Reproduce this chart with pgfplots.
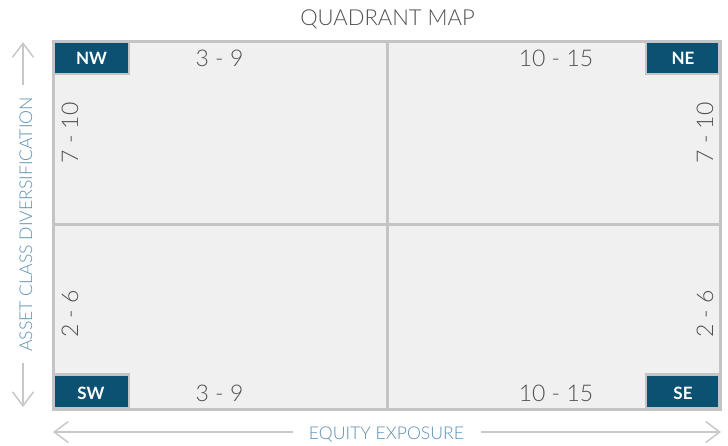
\documentclass[border=0pt]{standalone}
\usepackage{fontspec}
\setmainfont{Lato Light}[BoldFont={Lato Bold}]
\usepackage{pgfplots}
\pgfplotsset{compat=1.18}
\usetikzlibrary{arrows.meta}
\definecolor{cellfill}{HTML}{F0F0F0}
\definecolor{cellline}{HTML}{C4C4C4}
\definecolor{badge}{HTML}{0D5172}
\definecolor{txt}{HTML}{505050}
\definecolor{lab}{HTML}{5A8FB2}
\definecolor{arr}{HTML}{C8C8C8}
\begin{document}
\begin{tikzpicture}
\begin{axis}[width=728pt,height=443pt,scale only axis,
  xmin=0,xmax=728,ymin=0,ymax=443,y dir=reverse,
  hide axis,clip=false,anchor=south west,at={(0,0)}]
% invisible frame for bounding box
\addplot[draw=none,mark=none] coordinates {(0,0) (728,443)};
% quadrants
\addplot[fill=cellfill,draw=cellline,line width=3pt,mark=none] coordinates {(53,41) (387,41) (387,224) (53,224)} -- cycle;
\addplot[fill=cellfill,draw=cellline,line width=3pt,mark=none] coordinates {(387,41) (720,41) (720,224) (387,224)} -- cycle;
\addplot[fill=cellfill,draw=cellline,line width=3pt,mark=none] coordinates {(53,224) (387,224) (387,409) (53,409)} -- cycle;
\addplot[fill=cellfill,draw=cellline,line width=3pt,mark=none] coordinates {(387,224) (720,224) (720,409) (387,409)} -- cycle;
% badges
\addplot[fill=badge,draw=cellline,line width=2.5pt,mark=none] coordinates {(53.5,41.5) (129,41.5) (129,74) (53.5,74)} -- cycle;
\addplot[fill=badge,draw=cellline,line width=2.5pt,mark=none] coordinates {(646,41.5) (719.5,41.5) (719.5,74) (646,74)} -- cycle;
\addplot[fill=badge,draw=cellline,line width=2.5pt,mark=none] coordinates {(53.5,374.5) (129,374.5) (129,408.5) (53.5,408.5)} -- cycle;
\addplot[fill=badge,draw=cellline,line width=2.5pt,mark=none] coordinates {(646,374.5) (719.5,374.5) (719.5,408.5) (646,408.5)} -- cycle;
% arrows
\addplot[arr,line width=1.5pt,mark=none,-{Straight Barb[length=14pt,width=21pt]}] coordinates {(23,85) (23,42)};
\addplot[arr,line width=1.5pt,mark=none,-{Straight Barb[length=14pt,width=21pt]}] coordinates {(23,363) (23,407)};
\addplot[arr,line width=1.5pt,mark=none,-{Straight Barb[length=14pt,width=21pt]}] coordinates {(293,432) (53,432)};
\addplot[arr,line width=1.5pt,mark=none,-{Straight Barb[length=14pt,width=21pt]}] coordinates {(481,432) (721,432)};
% badge texts
\node[anchor=base,text=white,font=\bfseries\fontsize{17}{17}\selectfont] at (axis cs:91.5,64) {NW};
\node[anchor=base,text=white,font=\bfseries\fontsize{17}{17}\selectfont] at (axis cs:683,64) {NE};
\node[anchor=base,text=white,font=\bfseries\fontsize{17}{17}\selectfont] at (axis cs:91,399) {SW};
\node[anchor=base,text=white,font=\bfseries\fontsize{17}{17}\selectfont] at (axis cs:683,399) {SE};
% range labels
\node[anchor=base,text=txt,font=\fontsize{23}{23}\selectfont] at (axis cs:219.5,66) {3 - 9};
\node[anchor=base,text=txt,font=\fontsize{23}{23}\selectfont] at (axis cs:556,66) {10 - 15};
\node[anchor=base,text=txt,font=\fontsize{23}{23}\selectfont] at (axis cs:219.5,401) {3 - 9};
\node[anchor=base,text=txt,font=\fontsize{23}{23}\selectfont] at (axis cs:556,401) {10 - 15};
\node[rotate=90,anchor=base,text=txt,font=\fontsize{23}{23}\selectfont] at (axis cs:78,133) {7 - 10};
\node[rotate=90,anchor=base,text=txt,font=\fontsize{23}{23}\selectfont] at (axis cs:78,314) {2 - 6};
\node[rotate=90,anchor=base,text=txt,font=\fontsize{23}{23}\selectfont] at (axis cs:713,133) {7 - 10};
\node[rotate=90,anchor=base,text=txt,font=\fontsize{23}{23}\selectfont] at (axis cs:713,314) {2 - 6};
% titles
\node[anchor=base,text=txt,font=\fontsize{22}{22}\selectfont] at (axis cs:387.5,25) {QUADRANT MAP};
\node[rotate=90,anchor=base,text=lab,font=\fontsize{17.6}{17.6}\selectfont] at (axis cs:32,224.5) {ASSET CLASS DIVERSIFICATION};
\node[anchor=base,text=lab,font=\fontsize{17.6}{17.6}\selectfont] at (axis cs:386.5,439) {EQUITY EXPOSURE};
\end{axis}
\end{tikzpicture}
\end{document}
